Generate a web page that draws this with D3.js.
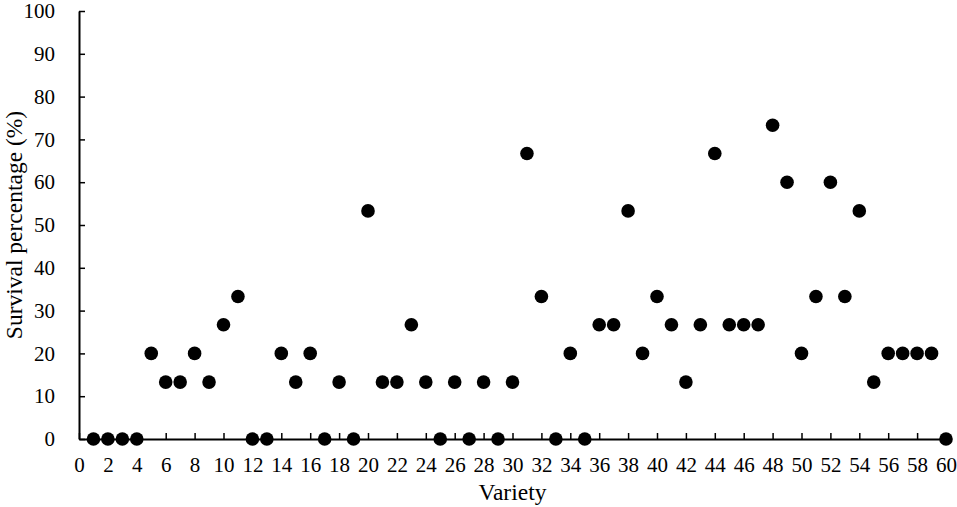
<!DOCTYPE html>
<html lang="en">
<head>
<meta charset="UTF-8">
<script src="https://cdn.jsdelivr.net/npm/d3@7"></script>
<style>
  body { margin: 0; background: white; }
  svg text { font-family: "Liberation Serif", "Times New Roman", serif; fill: black; }
</style>
</head>
<body>
<div id="chart"></div>
<script>
// variety numbers 1..60 and their survival percentage
const varieties = d3.range(1, 61);
const survival = [
  0, 0, 0, 0, 20, 13.3, 13.3, 20, 13.3, 26.7,
  33.3, 0, 0, 20, 13.3, 20, 0, 13.3, 0, 53.3,
  13.3, 13.3, 26.7, 13.3, 0, 13.3, 0, 13.3, 0, 13.3,
  66.7, 33.3, 0, 20, 0, 26.7, 26.7, 53.3, 20, 33.3,
  26.7, 13.3, 26.7, 66.7, 26.7, 26.7, 26.7, 73.3, 60, 20,
  33.3, 60, 33.3, 53.3, 13.3, 20, 20, 20, 20, 0
];
const xTicks = d3.range(0, 61, 2);
const yTicks = d3.range(0, 101, 10);

const width = 957, height = 507;
const margin = { top: 11, right: 11, bottom: 68, left: 79 };

const svg = d3.select("#chart").append("svg")
  .attr("width", width)
  .attr("height", height);

const x = d3.scaleLinear().domain([0, 60]).range([margin.left, width - margin.right]);
const y = d3.scaleLinear().domain([0, 100]).range([height - margin.bottom, margin.top]);

// x axis, ticks point inward
const gx = svg.append("g")
  .attr("transform", `translate(0,${y(0)})`)
  .call(d3.axisBottom(x).tickValues(xTicks).tickSize(-6).tickPadding(18).tickSizeOuter(0));
gx.select(".domain").attr("stroke-width", 2);
gx.selectAll(".tick line").attr("stroke-width", 1.5);
gx.selectAll("text").attr("font-size", 21);

// y axis
const gy = svg.append("g")
  .attr("transform", `translate(${x(0)},0)`)
  .call(d3.axisLeft(y).tickValues(yTicks).tickSize(-6).tickPadding(24).tickSizeOuter(0));
gy.select(".domain").attr("stroke-width", 2);
gy.selectAll(".tick line").attr("stroke-width", 1.5);
gy.selectAll("text").attr("font-size", 21);

// points
svg.append("g")
  .selectAll("circle")
  .data(varieties)
  .join("circle")
  .attr("cx", (d) => x(d))
  .attr("cy", (d, i) => y(survival[i]))
  .attr("r", 6.8)
  .attr("fill", "black");

// axis titles
svg.append("text")
  .attr("x", (x(0) + x(60)) / 2)
  .attr("y", 500)
  .attr("text-anchor", "middle")
  .attr("font-size", 23.5)
  .text("Variety");

svg.append("text")
  .attr("transform", `translate(22,${(y(0) + y(100)) / 2}) rotate(-90)`)
  .attr("text-anchor", "middle")
  .attr("font-size", 23.5)
  .text("Survival percentage (%)");
</script>
</body>
</html>
